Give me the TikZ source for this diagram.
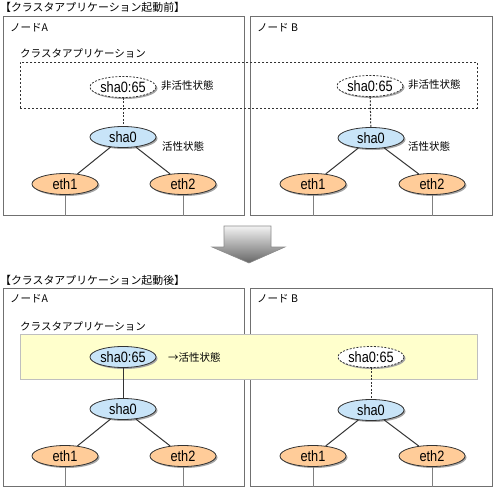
\documentclass[tikz,border=0pt]{standalone}
\usepackage{fontspec}
\setmainfont{Liberation Sans}
\newfontfamily\jpfont{Noto Sans CJK JP}
\newfontfamily\ellfont{Liberation Sans}[FakeStretch=0.85]
\usetikzlibrary{shapes.geometric,shadows}
\definecolor{blueF}{HTML}{C8E4F8}
\definecolor{orangeF}{HTML}{FFCC99}
\definecolor{yellowF}{HTML}{FFFFCC}
\definecolor{boxC}{HTML}{707070}
\tikzset{
  nodebox/.style={draw=boxC,line width=1pt},
  jp/.style={font=\jpfont\fontsize{10.5}{12}\selectfont,inner sep=0pt},
  jptitle/.style={font=\jpfont\fontsize{10.9}{12}\selectfont,inner sep=0pt},
  ell/.style={ellipse,draw=black!80,line width=0.8pt,minimum width=66pt,minimum height=21pt,inner sep=0pt,
    font=\ellfont\fontsize{15}{16}\selectfont,
    drop shadow={shadow xshift=1.5pt,shadow yshift=-1.5pt,fill=black!35,opacity=1}},
  shanode/.style={ell,fill=blueF},
  ethnode/.style={ell,fill=orangeF},
  virtoff/.style={ell,fill=white,dashed,dash pattern=on 2pt off 1.5pt},
  link/.style={draw=black!80,line width=1pt},
  dlink/.style={draw=black!80,line width=1pt,dash pattern=on 2pt off 1.5pt},
  wire/.style={draw=black!50,line width=0.8pt},
}
\begin{document}
\begin{tikzpicture}[x=1pt,y=-1pt]
\useasboundingbox (0,0) rectangle (493,487);
% ---------- top ----------
\node[jptitle,anchor=west] (title1) at (0,7) {【クラスタアプリケーション起動前】};
\node[nodebox,draw,minimum width=241pt,minimum height=199pt,anchor=north west,inner sep=0pt] (boxA1) at (3,16) {};
\node[nodebox,draw,minimum width=242pt,minimum height=199pt,anchor=north west,inner sep=0pt] (boxB1) at (250,16) {};
\node[jp,anchor=west] (labA1) at (10,28) {ノードA};
\node[jp,anchor=west] (labB1) at (257,28) {ノード B};
\node[jp,anchor=west] (cap1) at (20,53) {クラスタアプリケーション};
\node[draw=black!80,line width=0.6pt,dash pattern=on 2pt off 2pt,minimum width=457pt,minimum height=46pt,anchor=north west,inner sep=0pt] (app1) at (20,62) {};
% node A
\node[virtoff] (vA1) at (123,87) {sha0:65};
\node[shanode] (sA1) at (123,137) {sha0};
\node[ethnode] (e1A1) at (65,184) {eth1};
\node[ethnode] (e2A1) at (183,184) {eth2};
\node[jp,anchor=west] (stA1) at (161,86) {非活性状態};
\node[jp,anchor=west] (st2A1) at (162,146) {活性状態};
\draw[dlink] (vA1) -- (sA1);
\draw[link] (sA1) -- (e1A1);
\draw[link] (sA1) -- (e2A1);
\coordinate (w1A1) at (e1A1.south |- boxA1.south);
\coordinate (w2A1) at (e2A1.south |- boxA1.south);
\draw[wire] (e1A1) -- (w1A1);
\draw[wire] (e2A1) -- (w2A1);
% node B
\node[virtoff] (vB1) at (370,86) {sha0:65};
\node[shanode] (sB1) at (371,138) {sha0};
\node[ethnode] (e1B1) at (313,184) {eth1};
\node[ethnode] (e2B1) at (432,184) {eth2};
\node[jp,anchor=west] (stB1) at (408,85) {非活性状態};
\node[jp,anchor=west] (st2B1) at (408,146) {活性状態};
\draw[dlink] (vB1) -- (sB1);
\draw[link] (sB1) -- (e1B1);
\draw[link] (sB1) -- (e2B1);
\coordinate (w1B1) at (e1B1.south |- boxB1.south);
\coordinate (w2B1) at (e2B1.south |- boxB1.south);
\draw[wire] (e1B1) -- (w1B1);
\draw[wire] (e2B1) -- (w2B1);
% ---------- arrow ----------
\draw[draw=black!45,line width=0.6pt,top color=black!5,bottom color=black!60]
  (224,226) -- (271,226) -- (271,247) -- (285,247) -- (249,263) -- (212,247) -- (224,247) -- cycle;
% ---------- bottom ----------
\node[jptitle,anchor=west] (title2) at (0,280) {【クラスタアプリケーション起動後】};
\node[nodebox,draw,minimum width=241pt,minimum height=198pt,anchor=north west,inner sep=0pt] (boxA2) at (3,288) {};
\node[nodebox,draw,minimum width=242pt,minimum height=198pt,anchor=north west,inner sep=0pt] (boxB2) at (250,288) {};
\node[jp,anchor=west] (labA2) at (10,299) {ノードA};
\node[jp,anchor=west] (labB2) at (257,299) {ノード B};
\node[jp,anchor=west] (cap2) at (20,326) {クラスタアプリケーション};
\node[draw=black!25,line width=0.8pt,fill=yellowF,minimum width=457pt,minimum height=45pt,anchor=north west,inner sep=0pt] (app2) at (20,334) {};
% node A
\node[shanode] (vA2) at (123,357) {sha0:65};
\node[shanode] (sA2) at (123,409) {sha0};
\node[ethnode] (e1A2) at (65,456) {eth1};
\node[ethnode] (e2A2) at (183,456) {eth2};
\node[jp,anchor=west] (stA2) at (168,357) {→活性状態};
\draw[link] (vA2) -- (sA2);
\draw[link] (sA2) -- (e1A2);
\draw[link] (sA2) -- (e2A2);
\coordinate (w1A2) at (e1A2.south |- boxA2.south);
\coordinate (w2A2) at (e2A2.south |- boxA2.south);
\draw[wire] (e1A2) -- (w1A2);
\draw[wire] (e2A2) -- (w2A2);
% node B
\node[virtoff] (vB2) at (371,357) {sha0:65};
\node[shanode] (sB2) at (371,410) {sha0};
\node[ethnode] (e1B2) at (313,456) {eth1};
\node[ethnode] (e2B2) at (432,456) {eth2};
\draw[dlink] (vB2) -- (sB2);
\draw[link] (sB2) -- (e1B2);
\draw[link] (sB2) -- (e2B2);
\coordinate (w1B2) at (e1B2.south |- boxB2.south);
\coordinate (w2B2) at (e2B2.south |- boxB2.south);
\draw[wire] (e1B2) -- (w1B2);
\draw[wire] (e2B2) -- (w2B2);
\end{tikzpicture}
\end{document}
